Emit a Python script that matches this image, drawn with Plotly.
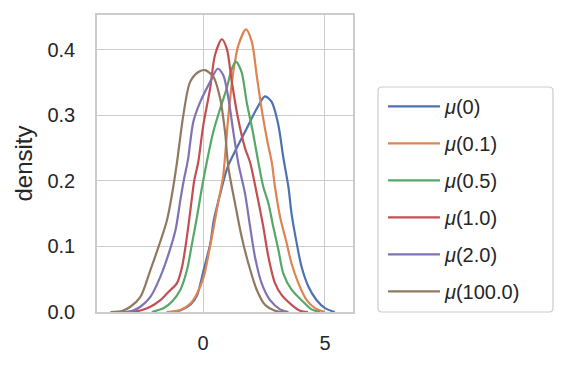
import plotly.graph_objects as go

# KDE curves, one per mu value
labels = ["<i>μ</i>(0)", "<i>μ</i>(0.1)", "<i>μ</i>(0.5)", "<i>μ</i>(1.0)", "<i>μ</i>(2.0)", "<i>μ</i>(100.0)"]
colors = ["#4c72b0", "#dd8452", "#55a868", "#c44e52", "#8172b3", "#937860"]

x_mu0 = [-1.3, -0.89, -0.5, -0.25, 0.03, 0.30, 0.44, 0.71, 0.92, 1.04, 1.38, 1.79, 2.2, 2.54,
         2.82, 3.09, 3.29, 3.5, 3.63, 3.84, 4.04, 4.32, 4.66, 5.0, 5.4]
y_mu0 = [0, 0.003, 0.012, 0.025, 0.065, 0.105, 0.14, 0.181, 0.211, 0.224, 0.25, 0.28, 0.31, 0.329,
         0.32, 0.285, 0.236, 0.191, 0.15, 0.105, 0.069, 0.039, 0.018, 0.006, 0]

x_mu01 = [-1.5, -0.93, -0.52, -0.25, 0.03, 0.23, 0.44, 0.64, 0.82, 1.04, 1.24, 1.45, 1.76, 2.0,
          2.2, 2.4, 2.64, 2.82, 2.95, 3.16, 3.43, 3.63, 3.91, 4.25, 4.59, 5.0]
y_mu01 = [0, 0.003, 0.013, 0.028, 0.054, 0.089, 0.13, 0.171, 0.206, 0.30, 0.366, 0.407, 0.431, 0.412,
          0.361, 0.31, 0.26, 0.228, 0.191, 0.145, 0.105, 0.074, 0.044, 0.018, 0.006, 0]

x_mu05 = [-2.1, -1.61, -1.27, -0.93, -0.66, -0.45, -0.25, -0.04, 0.15, 0.42, 0.70, 0.97, 1.18, 1.35,
          1.58, 1.79, 2.04, 2.27, 2.47, 2.68, 2.88, 3.09, 3.29, 3.63, 4.04, 4.45, 4.8]
y_mu05 = [0, 0.006, 0.016, 0.034, 0.064, 0.105, 0.145, 0.191, 0.228, 0.275, 0.31, 0.341, 0.371, 0.382,
          0.366, 0.32, 0.275, 0.228, 0.191, 0.166, 0.13, 0.095, 0.059, 0.034, 0.018, 0.004, 0]

x_mu1 = [-2.9, -2.5, -2.16, -1.75, -1.41, -1.07, -0.86, -0.68, -0.52, -0.36, -0.2, 0.01, 0.29, 0.49,
         0.77, 0.97, 1.18, 1.41, 1.72, 1.93, 2.2, 2.47, 2.68, 2.95, 3.22, 3.63, 3.98, 4.3]
y_mu1 = [0, 0.003, 0.008, 0.018, 0.031, 0.044, 0.069, 0.11, 0.155, 0.201, 0.228, 0.285, 0.341, 0.392,
         0.416, 0.402, 0.351, 0.30, 0.25, 0.228, 0.181, 0.13, 0.084, 0.044, 0.026, 0.011, 0.002, 0]

x_mu2 = [-3.3, -2.9, -2.57, -2.16, -1.75, -1.41, -1.13, -0.93, -0.79, -0.62, -0.4, -0.12, 0.29, 0.60,
         0.83, 1.04, 1.24, 1.45, 1.72, 1.93, 2.13, 2.4, 2.75, 3.16, 3.5]
y_mu2 = [0, 0.002, 0.008, 0.023, 0.054, 0.089, 0.125, 0.171, 0.201, 0.232, 0.29, 0.32, 0.351, 0.371,
         0.361, 0.326, 0.275, 0.226, 0.181, 0.13, 0.084, 0.044, 0.018, 0.004, 0]

x_mu100 = [-3.8, -3.3, -2.98, -2.57, -2.16, -1.82, -1.48, -1.27, -1.07, -0.81, -0.53, -0.19, 0.08, 0.42,
           0.70, 0.90, 1.04, 1.31, 1.58, 1.86, 2.2, 2.54, 2.95, 3.3]
y_mu100 = [0, 0.002, 0.008, 0.023, 0.064, 0.10, 0.14, 0.18, 0.228, 0.30, 0.351, 0.366, 0.369, 0.359,
           0.326, 0.275, 0.22, 0.166, 0.115, 0.074, 0.034, 0.011, 0.002, 0]

xs = [x_mu0, x_mu01, x_mu05, x_mu1, x_mu2, x_mu100]
ys = [y_mu0, y_mu01, y_mu05, y_mu1, y_mu2, y_mu100]

font = "Liberation Sans, Arial, sans-serif"
grid = "#cccccc"

fig = go.Figure()
for i, lab in enumerate(labels):
    fig.add_trace(go.Scatter(
        x=xs[i], y=ys[i], mode="lines", name=lab, legendgroup=lab,
        line=dict(color=colors[i], width=2.2, shape="spline", smoothing=0.8)
    ))

# legend frame with rounded corners, drawn as a shape (paper coords)
x0, x1, y0, y1 = 1.0977, 1.7812, 0.0, 0.7576
rx, ry = 4 / 256, 4 / 297
frame = (f"M{x0+rx},{y0} L{x1-rx},{y0} Q{x1},{y0} {x1},{y0+ry} L{x1},{y1-ry} "
         f"Q{x1},{y1} {x1-rx},{y1} L{x0+rx},{y1} Q{x0},{y1} {x0},{y1-ry} "
         f"L{x0},{y0+ry} Q{x0},{y0} {x0+rx},{y0} Z")
fig.add_shape(type="path", path=frame, xref="paper", yref="paper",
              line=dict(color=grid, width=1.2), fillcolor="white", layer="above")

# body of the page has an 8px margin, so the margins are shifted by that
fig.update_layout(
    width=568, height=369,
    margin=dict(l=89, r=223, t=7, b=65),
    plot_bgcolor="white", paper_bgcolor="white",
    font=dict(family=font, size=20, color="#262626"),
    showlegend=True,
    legend=dict(
        x=1.117, y=0.758, xanchor="left", yanchor="top",
        bgcolor="rgba(0,0,0,0)", borderwidth=0,
        font=dict(size=20), tracegroupgap=8, itemwidth=52
    )
)
fig.update_xaxes(
    range=[-4.35, 6.15], tickvals=[0, 5], showgrid=True, gridcolor=grid, gridwidth=1.2,
    zeroline=False, showline=True, linecolor=grid, linewidth=1.5, mirror=True,
    ticks="", ticklabelstandoff=12, automargin=False
)
fig.update_yaxes(
    range=[0, 0.453], tickvals=[0, 0.1, 0.2, 0.3, 0.4], tickformat=".1f",
    showgrid=True, gridcolor=grid, gridwidth=1.2,
    zeroline=False, showline=True, linecolor=grid, linewidth=1.5, mirror=True,
    ticks="", ticklabelstandoff=16, automargin=False,
    title=dict(text="density", standoff=8)
)

fig.write_html("out.html")
